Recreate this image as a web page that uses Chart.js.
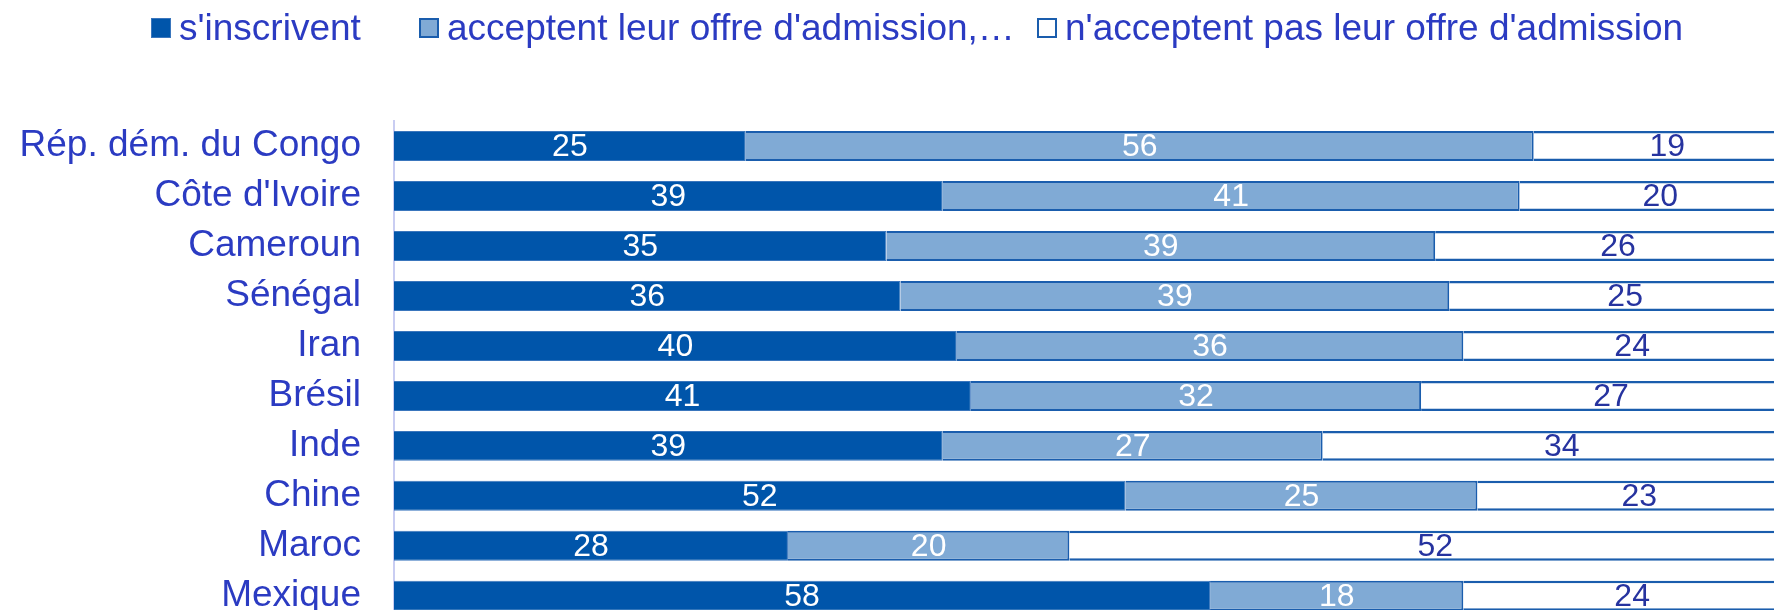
<!DOCTYPE html>
<html>
<head>
<meta charset="utf-8">
<script src="https://cdn.jsdelivr.net/npm/chart.js@4"></script>
<style>
  html, body { margin: 0; padding: 0; background: #fff; overflow: hidden; }
  #wrap { position: relative; width: 1774px; height: 610px; overflow: hidden; }
  canvas { position: absolute; left: 0; top: 0; }
  .leg { position: absolute; top: 7px; height: 37px; line-height: 37px; font: 37px 'Liberation Sans', Arial, sans-serif; color: #2B3BC2; white-space: nowrap; }
  .leg i { position: absolute; left: 0; top: 11px; width: 20px; height: 20px; box-sizing: border-box; }
  .leg span { position: absolute; left: 28px; top: 0; }
</style>
</head>
<body>
<div id="wrap">
  <canvas id="chart" width="1802" height="676" style="width:1802px;height:676px"></canvas>
  <div id="legend"></div>
</div>
<script>
const countries = ["Rép. dém. du Congo", "Côte d'Ivoire", "Cameroun", "Sénégal", "Iran", "Brésil", "Inde", "Chine", "Maroc", "Mexique"];
const seriesNames = ["s'inscrivent", "acceptent leur offre d'admission,…", "n'acceptent pas leur offre d'admission"];
const inscrits = [25, 39, 35, 36, 40, 41, 39, 52, 28, 58];
const acceptent = [56, 41, 39, 39, 36, 32, 27, 25, 20, 18];
const refusent = [19, 20, 26, 25, 24, 27, 34, 23, 52, 24];

const fills = ['#0055AA', '#80AAD5', '#FFFFFF'];
const borders = ['#3A76BD', '#1A5DAD', '#1A5DAD'];
const borderWidths = [1, 2, 2.5];
const labelColors = ['#FFFFFF', '#FFFFFF', '#26339F'];
const legendLeft = [151, 419, 1037];

// legend drawn in html so the spacing matches the original
const legend = document.getElementById('legend');
seriesNames.forEach((name, i) => {
  const item = document.createElement('div');
  item.className = 'leg';
  item.style.left = legendLeft[i] + 'px';
  const box = document.createElement('i');
  box.style.background = fills[i];
  box.style.border = (i === 0 ? 1 : 2) + 'px solid ' + borders[i];
  const txt = document.createElement('span');
  txt.textContent = name;
  item.appendChild(box);
  item.appendChild(txt);
  legend.appendChild(item);
});

const barLabels = {
  id: 'barLabels',
  afterDatasetsDraw(chart) {
    const ctx = chart.ctx;
    ctx.save();
    ctx.font = "32px 'Liberation Sans', Arial, sans-serif";
    ctx.textAlign = 'center';
    ctx.textBaseline = 'middle';
    chart.data.datasets.forEach((ds, i) => {
      chart.getDatasetMeta(i).data.forEach((bar, j) => {
        const p = bar.getProps(['x', 'y', 'base'], true);
        ctx.fillStyle = labelColors[i];
        ctx.fillText(ds.data[j], (p.x + p.base) / 2, p.y + 1);
      });
    });
    ctx.restore();
  }
};

new Chart(document.getElementById('chart'), {
  type: 'bar',
  data: {
    labels: countries,
    datasets: [inscrits, acceptent, refusent].map((values, i) => ({
      label: seriesNames[i],
      data: values,
      backgroundColor: fills[i],
      borderColor: borders[i],
      borderWidth: borderWidths[i],
      barPercentage: 0.6,
      categoryPercentage: 1
    }))
  },
  options: {
    indexAxis: 'y',
    responsive: false,
    animation: false,
    layout: {
      padding: { top: 121, right: 1, bottom: 0, left: 0 }
    },
    scales: {
      x: {
        stacked: true,
        min: 0,
        max: 100,
        display: false
      },
      y: {
        stacked: true,
        grid: { display: false, drawTicks: false },
        border: { display: true, color: '#C9CDF2', width: 2 },
        afterFit: scale => { scale.width = 394; },
        ticks: {
          color: '#2B3BC2',
          padding: 33,
          font: { family: "'Liberation Sans', Arial, sans-serif", size: 37 }
        }
      }
    },
    plugins: {
      legend: { display: false },
      tooltip: { enabled: false }
    }
  },
  plugins: [barLabels]
});
</script>
</body>
</html>
